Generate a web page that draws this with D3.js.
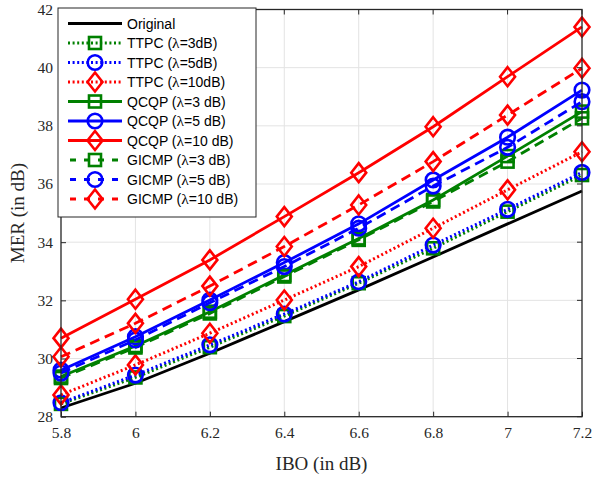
<!DOCTYPE html>
<html><head><meta charset="utf-8">
<script src="https://cdn.jsdelivr.net/npm/d3@7"></script>
<style>body{margin:0;background:#fff}</style>
</head><body><svg id="c" width="593" height="478"></svg>
<script>
const ibo = [5.8, 6.0, 6.2, 6.4, 6.6, 6.8, 7.0, 7.2];
const original = [28.3, 29.15, 30.18, 31.27, 32.36, 33.49, 34.63, 35.76];
const ttpc3  = [28.44, 29.35, 30.39, 31.46, 32.59, 33.79, 35.05, 36.31];
const ttpc5  = [28.48, 29.43, 30.47, 31.53, 32.64, 33.90, 35.13, 36.40];
const ttpc10 = [28.75, 29.78, 30.87, 32.01, 33.16, 34.48, 35.80, 37.11];
const qcqp3  = [29.38, 30.43, 31.61, 32.87, 34.13, 35.45, 36.96, 38.49];
const qcqp5  = [29.60, 30.75, 32.01, 33.30, 34.63, 36.14, 37.61, 39.23];
const qcqp10 = [30.70, 32.04, 33.39, 34.88, 36.39, 37.97, 39.69, 41.40];
const gicmp3  = [29.33, 30.38, 31.55, 32.82, 34.08, 35.40, 36.77, 38.26];
const gicmp5  = [29.50, 30.64, 31.92, 33.16, 34.48, 35.93, 37.26, 38.83];
const gicmp10 = [30.06, 31.21, 32.49, 33.85, 35.28, 36.77, 38.37, 39.98];
const xTicks = [5.8, 6, 6.2, 6.4, 6.6, 6.8, 7, 7.2];
const yTicks = [28, 30, 32, 34, 36, 38, 40, 42];
const legendNames = ["Original", "TTPC (λ=3dB)", "TTPC (λ=5dB)", "TTPC (λ=10dB)",
  "QCQP (λ=3 dB)", "QCQP (λ=5 dB)", "QCQP (λ=10 dB)",
  "GICMP (λ=3 dB)", "GICMP (λ=5 dB)", "GICMP (λ=10 dB)"];

const GREEN = "#008000", BLUE = "#0000ff", RED = "#ff0000";
const series = [
  {v: original, c: "#000", dash: null, m: null},
  {v: ttpc3, c: GREEN, dash: "dot", m: "square"},
  {v: ttpc5, c: BLUE, dash: "dot", m: "circle"},
  {v: ttpc10, c: RED, dash: "dot", m: "diamond"},
  {v: qcqp3, c: GREEN, dash: null, m: "square"},
  {v: qcqp5, c: BLUE, dash: null, m: "circle"},
  {v: qcqp10, c: RED, dash: null, m: "diamond"},
  {v: gicmp3, c: GREEN, dash: "dash", m: "square"},
  {v: gicmp5, c: BLUE, dash: "dash", m: "circle"},
  {v: gicmp10, c: RED, dash: "dash", m: "diamond"},
];
series.forEach((s, i) => s.name = legendNames[i]);

const L = 61, R = 582, T = 9.5, B = 416.7;
const x = d3.scaleLinear().domain([5.8, 7.2]).range([L, R]);
const y = d3.scaleLinear().domain([28, 42]).range([B, T]);
const svg = d3.select("#c");

// grid
const g = svg.append("g");
g.selectAll(".gx").data(xTicks.slice(1, -1)).join("line")
  .attr("x1", d => x(d)).attr("x2", d => x(d)).attr("y1", T).attr("y2", B)
  .attr("stroke", "#e3e3e3").attr("stroke-width", 1);
g.selectAll(".gy").data(yTicks.slice(1, -1)).join("line")
  .attr("y1", d => y(d)).attr("y2", d => y(d)).attr("x1", L).attr("x2", R)
  .attr("stroke", "#e3e3e3").attr("stroke-width", 1);

function dashArr(d) {
  if (d === "dot") return "2,2.6";
  if (d === "dash") return "10,6";
  return null;
}
const line = d3.line().x((d, i) => x(ibo[i])).y(d => y(d));

function marker(sel, type, cx, cy, color) {
  if (type === "square") {
    sel.append("rect").attr("x", cx - 6).attr("y", cy - 6).attr("width", 12).attr("height", 12)
      .attr("fill", "none").attr("stroke", color).attr("stroke-width", 2.6);
  } else if (type === "circle") {
    sel.append("circle").attr("cx", cx).attr("cy", cy).attr("r", 7.3)
      .attr("fill", "none").attr("stroke", color).attr("stroke-width", 2.6);
  } else if (type === "diamond") {
    sel.append("path").attr("d", `M${cx},${cy - 9.5}L${cx + 7.5},${cy}L${cx},${cy + 9.5}L${cx - 7.5},${cy}Z`)
      .attr("fill", "none").attr("stroke", color).attr("stroke-width", 2.6);
  }
}

const plot = svg.append("g");
series.forEach(s => {
  plot.append("path").attr("d", line(s.v)).attr("fill", "none")
    .attr("stroke", s.c).attr("stroke-width", s.dash === "dot" ? 3 : 2.8)
    .attr("stroke-dasharray", dashArr(s.dash));
  if (s.m) s.v.forEach((v, i) => marker(plot, s.m, x(ibo[i]), y(v), s.c));
});

// axes box
const ax = svg.append("g");
const axisColor = "#262626";
ax.append("rect").attr("x", L).attr("y", T).attr("width", R - L).attr("height", B - T)
  .attr("fill", "none").attr("stroke", axisColor).attr("stroke-width", 1.3);
const xa = d3.axisBottom(x).tickValues(xTicks).tickFormat(d3.format("")).tickSizeInner(-5).tickSizeOuter(0).tickPadding(10);
const ya = d3.axisLeft(y).tickValues(yTicks).tickFormat(d3.format("d")).tickSizeInner(-5).tickSizeOuter(0).tickPadding(8);
const gx = ax.append("g").attr("transform", `translate(0,${B})`).call(xa);
const gy = ax.append("g").attr("transform", `translate(${L},0)`).call(ya);
[gx, gy].forEach(a => {
  a.select(".domain").remove();
  a.selectAll("line").attr("stroke", axisColor);
  a.selectAll("text").attr("font-family", "Liberation Serif, Times New Roman, serif")
    .attr("font-size", 15.5).attr("fill", "#262626");
});
// top and right ticks
ax.selectAll(".tt").data(xTicks).join("line")
  .attr("x1", d => x(d)).attr("x2", d => x(d)).attr("y1", T).attr("y2", T + 5).attr("stroke", axisColor);
ax.selectAll(".rt").data(yTicks).join("line")
  .attr("y1", d => y(d)).attr("y2", d => y(d)).attr("x1", R).attr("x2", R - 5).attr("stroke", axisColor);

svg.append("text").attr("x", (L + R) / 2).attr("y", 470).attr("text-anchor", "middle")
  .attr("font-family", "Liberation Serif, serif").attr("font-size", 19).attr("fill", "#262626").text("IBO (in dB)");
svg.append("text").attr("transform", `translate(24,${(T + B) / 2}) rotate(-90)`).attr("text-anchor", "middle")
  .attr("font-family", "Liberation Serif, serif").attr("font-size", 19).attr("fill", "#262626").text("MER (in dB)");

// legend
const lg = svg.append("g");
const LX = 58, LY = 8, LW = 198, LH = 209;
lg.append("rect").attr("x", LX).attr("y", LY).attr("width", LW).attr("height", LH)
  .attr("fill", "#fff").attr("stroke", axisColor).attr("stroke-width", 1);
series.forEach((s, i) => {
  const yy = 23.5 + i * 19.5;
  lg.append("line").attr("x1", 68).attr("x2", 122).attr("y1", yy).attr("y2", yy)
    .attr("stroke", s.c).attr("stroke-width", s.dash === "dot" ? 3 : 2.8)
    .attr("stroke-dasharray", s.dash === "dash" ? "6,8" : dashArr(s.dash))
    .attr("stroke-dashoffset", s.dash === "dash" ? -2 : 0);
  if (s.m) marker(lg, s.m, 95, yy, s.c);
  const t = lg.append("text").attr("x", 127).attr("y", yy + 5)
    .attr("font-family", "Liberation Sans, Arial, sans-serif").attr("font-size", 14).attr("fill", "#000");
  const parts = s.name.split("λ");
  t.append("tspan").text(parts[0]);
  if (parts.length > 1) {
    t.append("tspan").attr("font-family", "Liberation Serif, serif").attr("font-size", 15.5).text("λ");
    t.append("tspan").text(parts[1]);
  }
});
</script></body></html>
